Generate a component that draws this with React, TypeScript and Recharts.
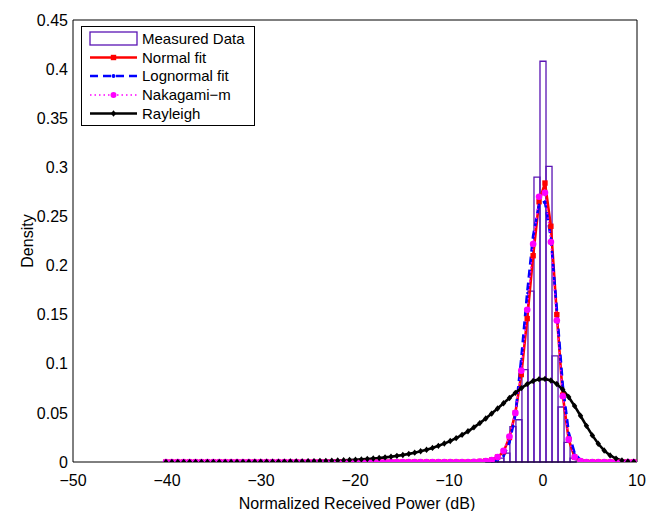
import React from 'react';
import { ComposedChart, Line, XAxis, YAxis, ReferenceArea, Legend, Label } from 'recharts';

// Normalized received power grid (dB) at which the fitted densities are drawn
const powerDb = [
  -40.11, -39.48, -38.85, -38.22, -37.59, -36.96, -36.33, -35.7, -35.07, -34.44,
  -33.81, -33.18, -32.55, -31.92, -31.29, -30.66, -30.03, -29.4, -28.77, -28.14,
  -27.51, -26.88, -26.25, -25.62, -24.99, -24.36, -23.73, -23.1, -22.47, -21.84,
  -21.21, -20.58, -19.95, -19.32, -18.69, -18.06, -17.43, -16.8, -16.17, -15.54,
  -14.91, -14.28, -13.65, -13.02, -12.39, -11.76, -11.13, -10.5, -9.87, -9.24,
  -8.61, -7.98, -7.35, -6.72, -6.09, -5.46, -4.83, -4.2, -3.57, -2.94,
  -2.31, -1.68, -1.05, -0.42, 0.21, 0.84, 1.47, 2.1, 2.73, 3.36,
  3.99, 4.62, 5.25, 5.88, 6.51, 7.14, 7.77, 8.4, 9.03, 9.66,
];

const normalFit = [
  0, 0, 0, 0, 0, 0, 0, 0, 0, 0,
  0, 0, 0, 0, 0, 0, 0, 0, 0, 0,
  0, 0, 0, 0, 0, 0, 0, 0, 0, 0,
  0, 0, 0, 0, 0, 0, 0, 0, 0, 0,
  0, 0, 0, 0, 0, 0, 0, 0, 0, 0,
  0, 0, 0.0002, 0.0005, 0.001, 0.002, 0.005, 0.0105, 0.025, 0.05,
  0.089, 0.146, 0.21, 0.265, 0.284, 0.24, 0.15, 0.068, 0.023, 0.005,
  0.0008, 0, 0, 0, 0, 0, 0, 0, 0, 0,
];

const lognormalFit = [
  0, 0, 0, 0, 0, 0, 0, 0, 0, 0,
  0, 0, 0, 0, 0, 0, 0, 0, 0, 0,
  0, 0, 0, 0, 0, 0, 0, 0, 0, 0,
  0, 0, 0, 0, 0, 0, 0, 0, 0, 0,
  0, 0, 0, 0, 0, 0, 0, 0, 0, 0,
  0, 0, 0, 0, 0.0001, 0.0005, 0.002, 0.006, 0.02, 0.048,
  0.105, 0.172, 0.23, 0.262, 0.265, 0.228, 0.155, 0.078, 0.03, 0.009,
  0.002, 0.0004, 0, 0, 0, 0, 0, 0, 0, 0,
];

const nakagamiFit = [
  0, 0, 0, 0, 0, 0, 0, 0, 0, 0,
  0, 0, 0, 0, 0, 0, 0, 0, 0, 0,
  0, 0, 0, 0, 0, 0, 0, 0, 0, 0,
  0, 0, 0, 0, 0, 0, 0, 0, 0, 0,
  0, 0, 0, 0, 0, 0, 0, 0, 0, 0,
  0, 0, 0.0002, 0.0005, 0.001, 0.002, 0.005, 0.0115, 0.026, 0.05,
  0.093, 0.155, 0.222, 0.27, 0.274, 0.224, 0.144, 0.067, 0.023, 0.005,
  0.001, 0, 0, 0, 0, 0, 0, 0, 0, 0,
];

const rayleighFit = [
  0.00002, 0.00003, 0.00003, 0.00003, 0.00004, 0.00005, 0.00005, 0.00006, 0.00007, 0.00008,
  0.0001, 0.00011, 0.00013, 0.00015, 0.00017, 0.0002, 0.00023, 0.00026, 0.00031, 0.00035,
  0.00041, 0.00047, 0.00055, 0.00063, 0.00073, 0.00084, 0.00097, 0.00112, 0.0013, 0.0015,
  0.00173, 0.002, 0.00231, 0.00266, 0.00307, 0.00355, 0.00409, 0.00471, 0.00543, 0.00625,
  0.00719, 0.00826, 0.00951, 0.01093, 0.01252, 0.01436, 0.01644, 0.01876, 0.02136, 0.02426,
  0.02763, 0.03127, 0.03526, 0.03961, 0.0443, 0.04929, 0.0545, 0.05985, 0.06521, 0.07039,
  0.07517, 0.07929, 0.08245, 0.08433, 0.08461, 0.08304, 0.07943, 0.07376, 0.06623, 0.0571,
  0.04708, 0.0368, 0.02708, 0.01855, 0.01172, 0.00674, 0.00347, 0.00158, 0.00062, 0.00021,
];

// Histogram of measured data: bin edges (dB) and density per bin
const histEdges = [-6.08, -5.44, -4.8, -4.16, -3.52, -2.88, -2.24, -1.6, -0.96, -0.32, 0.32, 0.96, 1.6, 2.24, 2.88, 3.52];
const histDensity = [0.001, 0.002, 0.004, 0.009, 0.036, 0.043, 0.094, 0.174, 0.29, 0.408, 0.301, 0.108, 0.056, 0.02, 0.004];

const xTicks = [-50, -40, -30, -20, -10, 0, 10];
const yTicks = [0, 0.05, 0.1, 0.15, 0.2, 0.25, 0.3, 0.35, 0.4, 0.45];
const legendLabels = ['Measured Data', 'Normal fit', 'Lognormal fit', 'Nakagami\u2212m', 'Rayleigh'];

const HIST = '#5a14b4';
const FONT = '"Liberation Sans", Arial, Helvetica, sans-serif';

const rows = powerDb.map((x, i) => ({
  x,
  normal: normalFit[i],
  lognormal: lognormalFit[i],
  nakagami: nakagamiFit[i],
  rayleigh: rayleighFit[i],
}));

const bins = histDensity.map((d, i) => ({ x1: histEdges[i], x2: histEdges[i + 1], d }));

const fmtX = (v: number) => String(v).replace('-', '\u2212');

const SquareDot = (p: any) => {
  if (p.cx == null || p.cy == null) return <g key={`sq-${p.index}`} />;
  return <rect key={`sq-${p.index}`} x={p.cx - 2.7} y={p.cy - 2.7} width={5.4} height={5.4} fill="#ff0000" />;
};

const DiamondDot = (p: any) => {
  if (p.cx == null || p.cy == null) return <g key={`dm-${p.index}`} />;
  const { cx, cy } = p;
  return (
    <polygon
      key={`dm-${p.index}`}
      points={`${cx},${cy - 3.2} ${cx + 2.7},${cy} ${cx},${cy + 3.2} ${cx - 2.7},${cy}`}
      fill="#000"
    />
  );
};

const LegendBox = () => {
  const rowY = [13, 31.5, 50, 69, 87.5];
  const x1 = 9;
  const x2 = 56;
  const mx = (x1 + x2) / 2;
  return (
    <svg width={174} height={100} style={{ display: 'block', fontFamily: FONT }}>
      <rect x={0.5} y={0.5} width={173} height={99} fill="#fff" stroke="#000" strokeWidth={1} />
      <rect x={x1} y={6} width={x2 - x1} height={13} fill="#fff" stroke={HIST} strokeWidth={1.3} />
      <line x1={x1} x2={x2} y1={rowY[1]} y2={rowY[1]} stroke="#ff0000" strokeWidth={2.5} />
      <rect x={mx - 2.7} y={rowY[1] - 2.7} width={5.4} height={5.4} fill="#ff0000" />
      <line x1={x1} x2={x2} y1={rowY[2]} y2={rowY[2]} stroke="#0000ff" strokeWidth={2.6} strokeDasharray="8 5" />
      <circle cx={mx} cy={rowY[2]} r={2} fill="#0000ff" />
      <line x1={x1} x2={x2} y1={rowY[3]} y2={rowY[3]} stroke="#ff00ff" strokeWidth={1.5} strokeDasharray="1.5 3" />
      <circle cx={mx} cy={rowY[3]} r={3} fill="#ff00ff" />
      <line x1={x1} x2={x2} y1={rowY[4]} y2={rowY[4]} stroke="#000" strokeWidth={2.5} />
      <polygon points={`${mx},${rowY[4] - 3.2} ${mx + 2.7},${rowY[4]} ${mx},${rowY[4] + 3.2} ${mx - 2.7},${rowY[4]}`} fill="#000" />
      {legendLabels.map((t, i) => (
        <text key={t} x={61} y={rowY[i] + 5.3} fontSize={15} fill="#000">
          {t}
        </text>
      ))}
    </svg>
  );
};

const YLabel = (p: any) => {
  const vb = p.viewBox || { x: 0, y: 20, width: 73, height: 442 };
  const x = vb.x + 27;
  const y = vb.y + vb.height / 2;
  return (
    <text x={x} y={y} transform={`rotate(-90 ${x} ${y})`} textAnchor="middle" dominantBaseline="central" fontSize={16} fill="#000">
      Density
    </text>
  );
};

const XLabel = (p: any) => {
  const vb = p.viewBox || { x: 73, y: 462, width: 564, height: 49 };
  return (
    <text x={vb.x + vb.width / 2 + 2} y={vb.y + 47} textAnchor="middle" fontSize={16} fill="#000">
      Normalized Received Power (dB)
    </text>
  );
};

export default function App() {
  return (
    <div style={{ position: 'absolute', left: 0, top: 0, width: 646, height: 511, background: '#fff', fontFamily: FONT }}>
      <ComposedChart width={646} height={511} data={rows} margin={{ top: 20, right: 9, left: 0, bottom: 0 }}>
        <XAxis
          dataKey="x"
          type="number"
          domain={[-50, 10]}
          ticks={xTicks}
          interval={0}
          allowDataOverflow
          tickFormatter={fmtX}
          tickLine={false}
          axisLine={{ stroke: '#000', strokeWidth: 1 }}
          height={49}
          tickMargin={7}
          tick={{ fill: '#000', fontSize: 16 }}
          label={<Label content={<XLabel />} />}
        />
        <XAxis
          xAxisId="top"
          orientation="top"
          type="number"
          domain={[-50, 10]}
          ticks={xTicks}
          interval={0}
          allowDataOverflow
          mirror
          height={1}
          tick={false}
          tickSize={5}
          tickLine={{ stroke: '#000' }}
          axisLine={{ stroke: '#000', strokeWidth: 1 }}
        />
        <XAxis
          xAxisId="bottomIn"
          orientation="bottom"
          type="number"
          domain={[-50, 10]}
          ticks={xTicks}
          interval={0}
          allowDataOverflow
          mirror
          height={1}
          tick={false}
          tickSize={5}
          tickLine={{ stroke: '#000' }}
          axisLine={false}
        />
        <YAxis
          type="number"
          domain={[0, 0.45]}
          ticks={yTicks}
          interval={0}
          allowDataOverflow
          width={73}
          tickLine={false}
          tickSize={5}
          tickMargin={0}
          axisLine={{ stroke: '#000', strokeWidth: 1 }}
          tick={{ fill: '#000', fontSize: 16 }}
          label={<Label content={<YLabel />} />}
        />
        <YAxis
          yAxisId="leftIn"
          orientation="left"
          type="number"
          domain={[0, 0.45]}
          ticks={yTicks}
          interval={0}
          allowDataOverflow
          mirror
          width={1}
          tick={false}
          tickSize={5}
          tickLine={{ stroke: '#000' }}
          axisLine={false}
        />
        <YAxis
          yAxisId="right"
          orientation="right"
          type="number"
          domain={[0, 0.45]}
          ticks={yTicks}
          interval={0}
          allowDataOverflow
          mirror
          width={1}
          tick={false}
          tickSize={5}
          tickLine={{ stroke: '#000' }}
          axisLine={{ stroke: '#000', strokeWidth: 1 }}
        />
        {bins.map((b, i) => (
          <ReferenceArea
            key={`bin-${i}`}
            x1={b.x1}
            x2={b.x2}
            y1={0}
            y2={b.d}
            fill="#ffffff"
            fillOpacity={0}
            stroke={HIST}
            strokeWidth={1.3}
            strokeOpacity={1}
            ifOverflow="visible"
          />
        ))}
        <Line
          dataKey="normal"
          stroke="#ff0000"
          strokeWidth={2.6}
          dot={SquareDot}
          activeDot={false}
          isAnimationActive={false}
          type="linear"
        />
        <Line
          dataKey="lognormal"
          stroke="#0000ff"
          strokeWidth={2.7}
          strokeDasharray="8 5"
          dot={{ r: 1.1, fill: '#0000ff', stroke: 'none', strokeWidth: 0 }}
          activeDot={false}
          isAnimationActive={false}
          type="linear"
        />
        <Line
          dataKey="nakagami"
          stroke="#ff00ff"
          strokeWidth={1.5}
          strokeDasharray="1.5 3"
          dot={{ r: 3.3, fill: '#ff00ff', stroke: 'none', strokeWidth: 0 }}
          activeDot={false}
          isAnimationActive={false}
          type="linear"
        />
        <Line
          dataKey="rayleigh"
          stroke="#000000"
          strokeWidth={2.6}
          dot={DiamondDot}
          activeDot={false}
          isAnimationActive={false}
          type="linear"
        />
        <Legend
          layout="horizontal"
          verticalAlign="middle"
          align="center"
          content={<LegendBox />}
          wrapperStyle={{ position: 'absolute', left: 81, top: 26, width: 174, height: 100, margin: 0, padding: 0 }}
        />
      </ComposedChart>
    </div>
  );
}
